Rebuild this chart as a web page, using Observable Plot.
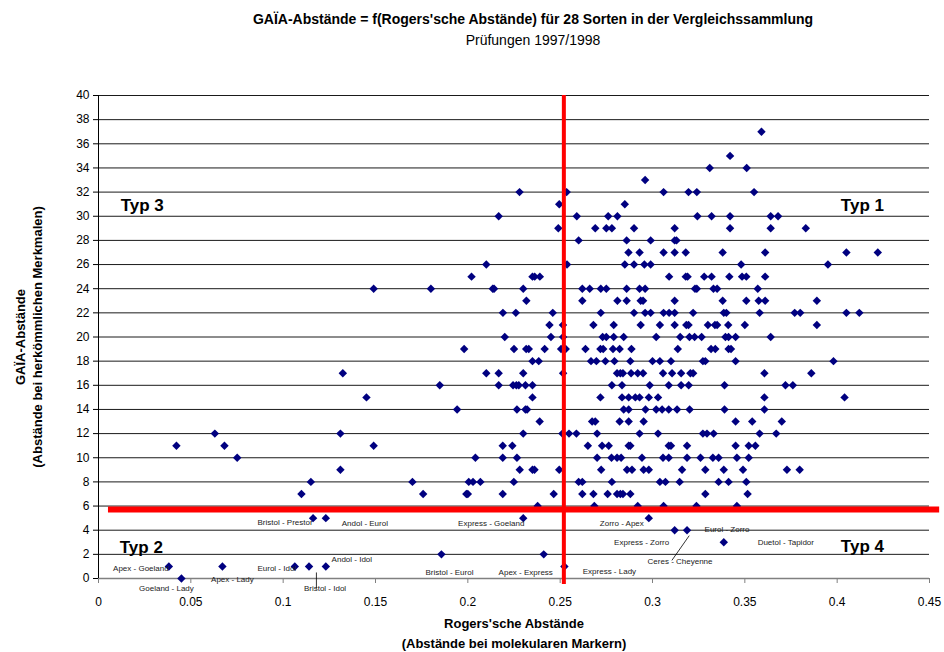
<!DOCTYPE html>
<html><head><meta charset="utf-8">
<script src="https://cdn.jsdelivr.net/npm/d3@7"></script>
<script src="https://cdn.jsdelivr.net/npm/@observablehq/plot@0.6"></script>
<style>
html,body{margin:0;padding:0;background:#fff;overflow:hidden;}
body{font-family:"Liberation Sans",Arial,sans-serif;color:#000;}
#title{height:60px;padding-left:122px;width:822px;text-align:center;}
#title .t{font-weight:bold;font-size:14px;line-height:16px;padding-top:11px;}
#title .s{font-size:14px;line-height:16px;margin-top:5px;}
#chart svg{display:block;}
</style></head><body>
<div id="title"><div class="t">GAÏA-Abstände = f(Rogers'sche Abstände) für 28 Sorten in der Vergleichssammlung</div><div class="s">Prüfungen 1997/1998</div></div>
<div id="chart"></div>
<script>
// ---- data: [GAÏA distance, Rogers distances at that level] ----
const scatterRows = [
  [37, [0.359]],
  [35, [0.342]],
  [34, [0.331, 0.351]],
  [33, [0.296]],
  [32, [0.228, 0.2535, 0.306, 0.3195, 0.324, 0.355]],
  [31, [0.2495, 0.285]],
  [30, [0.2167, 0.259, 0.276, 0.281, 0.3243, 0.332, 0.342, 0.364, 0.368]],
  [29, [0.249, 0.269, 0.275, 0.278, 0.290, 0.312, 0.342, 0.364, 0.383]],
  [28, [0.260, 0.286, 0.299, 0.312, 0.313]],
  [27, [0.287, 0.293, 0.306, 0.312, 0.318, 0.338, 0.361, 0.405, 0.422]],
  [26, [0.210, 0.2537, 0.285, 0.290, 0.2956, 0.299, 0.348, 0.395]],
  [25, [0.202, 0.235, 0.2362, 0.239, 0.309, 0.318, 0.319, 0.328, 0.332, 0.3416, 0.3485, 0.3508, 0.361]],
  [24, [0.149, 0.180, 0.2135, 0.2142, 0.230, 0.262, 0.266, 0.272, 0.275, 0.286, 0.293, 0.296, 0.323, 0.324, 0.333, 0.335, 0.357]],
  [23, [0.2317, 0.262, 0.281, 0.286, 0.2936, 0.2949, 0.312, 0.338, 0.3508, 0.3575, 0.361, 0.389]],
  [22, [0.219, 0.226, 0.246, 0.272, 0.290, 0.296, 0.299, 0.306, 0.309, 0.312, 0.322, 0.3386, 0.340, 0.358, 0.377, 0.380, 0.405, 0.412]],
  [21, [0.2442, 0.2515, 0.268, 0.279, 0.2936, 0.304, 0.312, 0.3183, 0.3195, 0.330, 0.3338, 0.335, 0.341, 0.350, 0.389]],
  [20, [0.220, 0.245, 0.2516, 0.273, 0.275, 0.279, 0.2844, 0.302, 0.315, 0.320, 0.3228, 0.3266, 0.3395, 0.3412, 0.345, 0.364]],
  [19, [0.198, 0.225, 0.2316, 0.233, 0.2416, 0.2505, 0.253, 0.2637, 0.2718, 0.2733, 0.2786, 0.2822, 0.2886, 0.3137, 0.3317, 0.334, 0.3412, 0.3425]],
  [18, [0.235, 0.2384, 0.2667, 0.2696, 0.2745, 0.2794, 0.288, 0.300, 0.304, 0.310, 0.3273, 0.3286, 0.345, 0.398]],
  [17, [0.1323, 0.210, 0.2167, 0.230, 0.2516, 0.2808, 0.2826, 0.284, 0.2884, 0.292, 0.2949, 0.3057, 0.3106, 0.3155, 0.3205, 0.322, 0.3606, 0.386]],
  [16, [0.1848, 0.2167, 0.2245, 0.2263, 0.2276, 0.2312, 0.235, 0.278, 0.2835, 0.2985, 0.3088, 0.3155, 0.3196, 0.339, 0.372, 0.376]],
  [15, [0.1451, 0.235, 0.2718, 0.2835, 0.2871, 0.2907, 0.293, 0.298, 0.303, 0.3606, 0.404]],
  [14, [0.1942, 0.2266, 0.2312, 0.2321, 0.2844, 0.2871, 0.2962, 0.302, 0.3052, 0.3088, 0.3133, 0.3201, 0.339, 0.3606]],
  [13, [0.2389, 0.2673, 0.269, 0.2822, 0.2871, 0.2952, 0.345, 0.354, 0.370]],
  [12, [0.063, 0.131, 0.230, 0.2512, 0.2548, 0.2588, 0.270, 0.293, 0.303, 0.3273, 0.3295, 0.3331, 0.358, 0.367]],
  [11, [0.0422, 0.0682, 0.149, 0.2189, 0.2241, 0.265, 0.2727, 0.2763, 0.2871, 0.288, 0.3088, 0.310, 0.3187, 0.345, 0.3521, 0.3557]],
  [10, [0.0751, 0.2041, 0.2189, 0.2266, 0.270, 0.2778, 0.2808, 0.283, 0.2943, 0.3057, 0.3088, 0.3187, 0.326, 0.3327, 0.3358, 0.3457, 0.3521]],
  [9,  [0.131, 0.2281, 0.235, 0.2361, 0.2495, 0.2722, 0.2862, 0.2889, 0.2952, 0.298, 0.316, 0.3286, 0.3386, 0.349, 0.3728, 0.3797]],
  [8,  [0.115, 0.170, 0.2005, 0.2028, 0.2068, 0.2249, 0.260, 0.262, 0.278, 0.304, 0.307, 0.3147, 0.3358, 0.3412, 0.3508]],
  [7,  [0.1099, 0.1758, 0.1992, 0.2, 0.2189, 0.2465, 0.262, 0.268, 0.2757, 0.2808, 0.2826, 0.284, 0.288, 0.3286, 0.3515]],
  [6,  [0.2378, 0.2685, 0.292, 0.306, 0.3238, 0.3457]],
  [5,  [0.1162, 0.1231, 0.230, 0.298]],
  [4,  [0.312, 0.3187]],
  [3,  [0.3386]],
  [2,  [0.1857, 0.2411]],
  [1,  [0.0381, 0.0671, 0.1063, 0.114, 0.1231, 0.2523]],
  [0,  [0.0449]]
];

// labelled pairs
const pairNames  = ["Bristol - Prestor","Andol - Eurol","Express - Goeland","Zorro - Apex","Eurol - Zorro","Express - Zorro","Duetol - Tapidor","Ceres - Cheyenne","Apex - Goeland","Eurol - Idol","Andol - Idol","Goeland - Lady","Apex - Lady","Bristol - Idol","Bristol - Eurol","Apex - Express","Express - Lady"];
const pairRogers = [0.1162, 0.1231, 0.230, 0.298, 0.3187, 0.312, 0.3386, 0.3187, 0.0381, 0.1063, 0.1231, 0.0449, 0.0671, 0.114, 0.1857, 0.2411, 0.2523];
const pairGaia   = [5, 5, 5, 5, 4, 4, 3, 4, 1, 1, 1, 0, 1, 1, 2, 2, 1];

// quadrant labels and threshold lines
const typNames  = ["Typ 3", "Typ 1", "Typ 2", "Typ 4"];
const typRogers = [0.012, 0.402, 0.0115, 0.402];
const typGaia   = [30.9, 30.9, 2.6, 2.65];
const thresholdRogers = 0.252;
const thresholdGaia = 5.72;

// ticks
const xTicks = [0, 0.05, 0.1, 0.15, 0.2, 0.25, 0.3, 0.35, 0.4, 0.45];
const yTicks = d3.range(0, 41, 2);

// leader lines (annotation)
const leaderX1 = [0.3105, 0.118], leaderY1 = [1.5, 0.5];
const leaderX2 = [0.3199, 0.118], leaderY2 = [3.55, -0.85];

// ---- layout (pixel offsets of the pair labels relative to their point) ----
const labelOffsets = [[-28,4],[39,5],[-32,5],[-27,5],[40,-1],[-33,12],[62,0],[-7,31],[-28,2],[-18,2],[26,-7],[-15,10],[10,13],[16,22],[8,18],[-18,18],[45,5]];

const points = scatterRows.flatMap(([g, xs]) => xs.map(x => ({x, y: g})));
const leaders = leaderX1.map((_, i) => ({x1: leaderX1[i], y1: leaderY1[i], x2: leaderX2[i], y2: leaderY2[i]}));
const typs = typNames.map((t, i) => ({t, x: typRogers[i], y: typGaia[i]}));

const font = "Liberation Sans, Arial, sans-serif";
const fmt = d => String(+d.toFixed(2));

const chart = Plot.plot({
  width: 944, height: 592,
  marginTop: 35, marginBottom: 74, marginLeft: 98, marginRight: 15,
  style: {fontFamily: font, background: "#fff", color: "#000", overflow: "visible"},
  x: {domain: [0, 0.45], axis: null},
  y: {domain: [0, 40], axis: null},
  marks: [
    Plot.ruleY(yTicks.filter(d => d > 0), {stroke: "#1a1a1a", strokeWidth: 1}),
    Plot.ruleY([0], {stroke: "#808080", strokeWidth: 1.5}),
    Plot.ruleX([0], {stroke: "#000", strokeWidth: 1}),
    Plot.axisY({ticks: yTicks, tickSize: 5, tickPadding: 4, fontSize: 12, label: null, tickFormat: d => d}),
    Plot.axisX({ticks: xTicks, tickSize: 5, tickPadding: 14, fontSize: 12, label: null, tickFormat: fmt, stroke: "#808080"}),
    Plot.dot(points, {x: "x", y: "y", symbol: "diamond2", r: 3.8, fill: "#000080", stroke: "none"}),
    Plot.link(leaders, {x1: "x1", y1: "y1", x2: "x2", y2: "y2", stroke: "#000", strokeWidth: 0.8}),
    ...pairNames.map((name, i) => Plot.text([name], {
      x: () => pairRogers[i], y: () => pairGaia[i], text: d => d,
      dx: labelOffsets[i][0], dy: labelOffsets[i][1],
      fontSize: 8, fill: "#222"
    })),
    Plot.ruleX([thresholdRogers], {y1: -0.5, y2: 40, stroke: "#ff0000", strokeWidth: 4}),
    Plot.ruleY([thresholdGaia], {x1: 0.0054, x2: 0.4555, stroke: "#ff0000", strokeWidth: 6}),
    Plot.text(typs, {x: "x", y: "y", text: "t", textAnchor: "start", fontSize: 17, fontWeight: "bold"}),
    Plot.text(["GAÏA-Abstände"], {frameAnchor: "left", textAnchor: "middle", lineAnchor: "middle", dx: -78, rotate: -90, fontSize: 13, fontWeight: "bold"}),
    Plot.text(["(Abstände bei herkömmlichen Merkmalen)"], {frameAnchor: "left", textAnchor: "middle", lineAnchor: "middle", dx: -61, rotate: -90, fontSize: 13, fontWeight: "bold"}),
    Plot.text(["Rogers'sche Abstände"], {frameAnchor: "bottom", lineAnchor: "middle", dy: 45, fontSize: 13, fontWeight: "bold"}),
    Plot.text(["(Abstände bei molekularen Markern)"], {frameAnchor: "bottom", lineAnchor: "middle", dy: 65, fontSize: 13, fontWeight: "bold"})
  ]
});
document.getElementById("chart").appendChild(chart);
</script>
</body></html>
